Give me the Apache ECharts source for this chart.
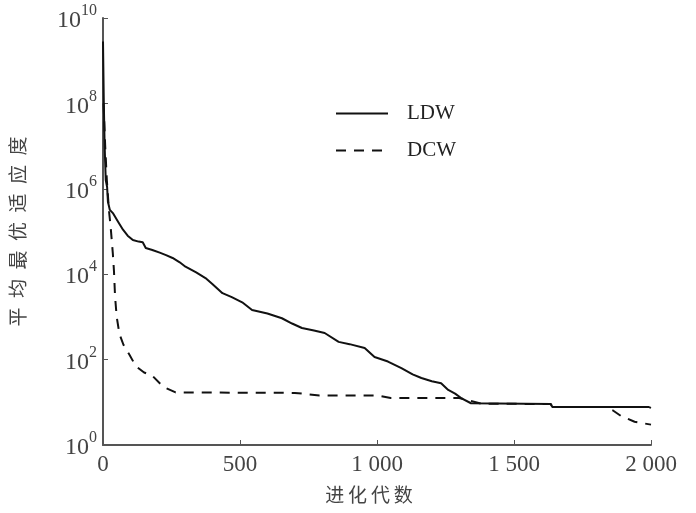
<!DOCTYPE html>
<html>
<head>
<meta charset="utf-8">
<script src="https://cdn.jsdelivr.net/npm/echarts@6/dist/echarts.min.js"></script>
<style>html,body{margin:0;padding:0;background:#fff}#c{width:696px;height:513px}</style>
</head>
<body>
<div id="c"></div>
<script>
// Generations and average best fitness values
const ldwGen = [0, 3, 6, 10, 15, 18, 25, 36, 55, 73, 90, 109, 130, 145, 156, 180, 207, 230, 254, 280, 301, 340, 374, 400, 436, 470, 508, 544, 600, 653, 690, 726, 770, 809, 860, 900, 955, 991, 1040, 1089, 1130, 1162, 1200, 1234, 1260, 1285, 1307, 1343, 1350, 1634, 1640, 1990, 2000];
const ldwVal = [2.8e9, 1e8, 1e7, 1.6e6, 1.1e6, 5e5, 3.2e5, 2.7e5, 1.7e5, 1.1e5, 8e4, 6.3e4, 5.8e4, 5.6e4, 4.1e4, 3.7e4, 3.2e4, 2.8e4, 2.4e4, 1.9e4, 1.5e4, 1.1e4, 8.1e3, 5.8e3, 3.6e3, 2.9e3, 2.2e3, 1.45e3, 1.2e3, 930, 700, 550, 480, 420, 260, 230, 186, 115, 90, 63, 45, 37, 31, 28, 19.5, 16, 12.6, 9.5, 9.1, 9.1, 7.8, 7.8, 7.4];
const dcwGen = [2, 8, 14, 22, 28, 36, 40, 44, 50, 60, 75, 95, 120, 150, 180, 220, 265, 700, 790, 1000, 1050, 1300, 1380, 1634, 1640, 1830, 1860, 1890, 1940, 2000];
const dcwVal = [1e8, 1e7, 1.6e6, 3e5, 1.26e5, 3e4, 1.2e4, 3e3, 1e3, 400, 220, 135, 70, 50, 42, 23, 17, 16.6, 14.5, 14.5, 12.6, 12.6, 9.3, 9.1, 7.8, 7.8, 6.5, 4.8, 3.5, 3];
const xTicks = [0, 500, 1000, 1500, 2000];
const xTickLabels = ['0', '500', '1 000', '1 500', '2 000'];
const seriesNames = ['LDW', 'DCW'];

const pairs = (g, v) => g.map((x, i) => [x, v[i]]);
const serif = '"Liberation Serif", "DejaVu Serif", serif';
const cjk = '"Noto Sans CJK SC", sans-serif';

const chart = echarts.init(document.getElementById('c'), null, {renderer: 'canvas'});
chart.setOption({
  animation: false,
  backgroundColor: '#fff',
  grid: {left: 100, right: 45, top: 18, bottom: 68, containLabel: false},
  legend: {
    orient: 'vertical', left: 330, top: 98, itemWidth: 52, itemHeight: 12, itemGap: 16,
    itemStyle: {opacity: 0},
    textStyle: {fontFamily: serif, fontSize: 21, color: '#222', padding: [0, 0, 0, 14]},
    data: seriesNames
  },
  xAxis: {
    type: 'value', min: 0, max: 2000, interval: 500,
    name: '进\u2009化\u2009代\u2009数', nameLocation: 'middle', nameGap: 40,
    nameTextStyle: {fontFamily: cjk, fontSize: 19, color: '#444', padding: [0, 16, 0, 0]},
    axisLine: {lineStyle: {color: '#555', width: 2}},
    axisTick: {inside: true, length: 5, lineStyle: {color: '#555', width: 1}},
    splitLine: {show: false},
    axisLabel: {
      margin: 8, fontFamily: serif, fontSize: 23, color: '#444',
      formatter: v => { const i = xTicks.indexOf(v); return i >= 0 ? xTickLabels[i] : ''; }
    }
  },
  yAxis: {
    type: 'log', logBase: 10, min: 1, max: 1e10, interval: 2,
    name: '平\u2002均\u2002最\u2002优\u2002适\u2002应\u2002度', nameLocation: 'middle', nameGap: 76, nameRotate: 90,
    nameTextStyle: {fontFamily: cjk, fontSize: 19, color: '#444'},
    axisLine: {lineStyle: {color: '#555', width: 2}},
    axisTick: {inside: true, length: 5, lineStyle: {color: '#555', width: 1}},
    splitLine: {show: false},
    axisLabel: {
      margin: 6,
      formatter: v => { const e = Math.round(Math.log10(v)); return '{b|10}{s|' + e + '}'; },
      rich: {
        b: {fontFamily: serif, fontSize: 24, color: '#444', verticalAlign: 'bottom'},
        s: {fontFamily: serif, fontSize: 16, color: '#444', verticalAlign: 'top', padding: [0, 0, 14, 0]}
      }
    }
  },
  series: [
    {name: seriesNames[1], type: 'line', data: pairs(dcwGen, dcwVal), showSymbol: false, symbol: 'none',
     lineStyle: {color: '#111', width: 2, type: [10, 8]}, itemStyle: {color: '#111'}},
    {name: seriesNames[0], type: 'line', data: pairs(ldwGen, ldwVal), showSymbol: false, symbol: 'none',
     lineStyle: {color: '#111', width: 2, type: 'solid'}, itemStyle: {color: '#111'}}
  ]
});
</script>
</body>
</html>
